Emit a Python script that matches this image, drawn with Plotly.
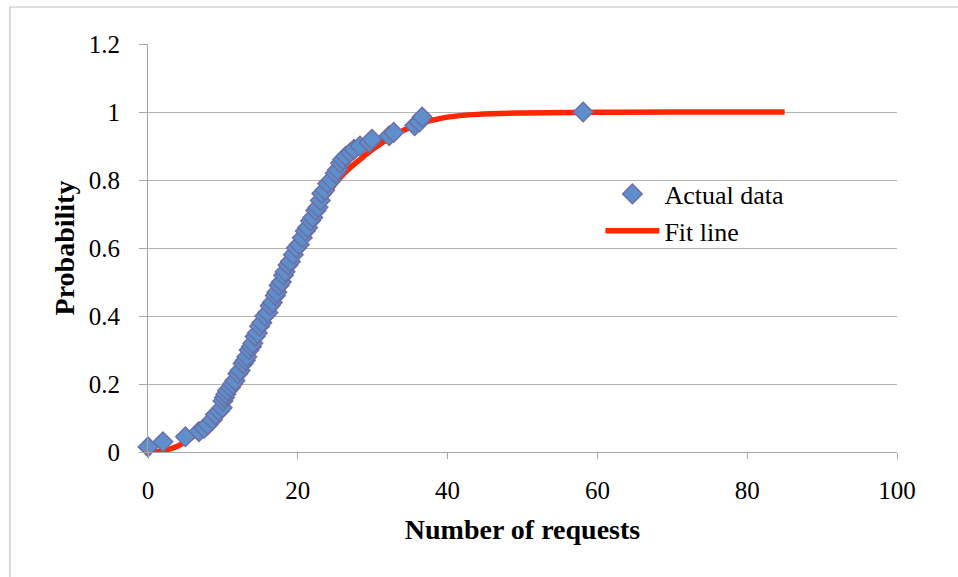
import plotly.graph_objects as go

# Observed request counts and their cumulative probability
actual_x = [0, 2, 5, 6.8, 7.5, 8, 8.6, 9, 9.5, 9.9,
            10, 10.2, 10.4, 10.6, 11, 11.3, 11.6, 12, 12.3, 12.7,
            13, 13.2, 13.5, 13.8, 14, 14.3, 14.6, 14.9, 15.2, 15.6,
            16, 16.3, 16.6, 17, 17.2, 17.5, 17.8, 18.1, 18.3, 18.7,
            19, 19.4, 19.8, 20.2, 20.6, 21, 21.3, 21.7, 22, 22.4,
            22.7, 23, 23.2, 23.6, 24, 24.5, 25, 25.3, 25.7, 26,
            26.4, 27, 27.5, 28.3, 29.5, 29.9, 32.2, 32.8, 35.6, 36.2,
            36.6, 58.1]
actual_y = [0.015, 0.03, 0.045, 0.06, 0.07, 0.08, 0.095, 0.11, 0.12, 0.13,
            0.15, 0.16, 0.17, 0.18, 0.19, 0.2, 0.21, 0.23, 0.24, 0.26,
            0.27, 0.28, 0.3, 0.31, 0.32, 0.34, 0.35, 0.37, 0.38, 0.4,
            0.41, 0.43, 0.44, 0.46, 0.47, 0.49, 0.5, 0.52, 0.53, 0.55,
            0.56, 0.58, 0.6, 0.61, 0.63, 0.65, 0.66, 0.68, 0.69, 0.71,
            0.72, 0.74, 0.76, 0.77, 0.79, 0.8, 0.82, 0.83, 0.85, 0.86,
            0.87, 0.88, 0.89, 0.9, 0.91, 0.92, 0.93, 0.94, 0.96, 0.97,
            0.985, 1.0]

# Fitted cumulative curve
fit_x = [0, 2, 4, 6, 8, 10, 12, 14, 16, 18, 20, 22, 24, 26, 28, 30,
         32, 34, 36, 38, 40, 44, 50, 60, 70, 85]
fit_y = [0, 0.004, 0.018, 0.045, 0.09, 0.15, 0.23, 0.32, 0.42, 0.52,
         0.61, 0.69, 0.76, 0.815, 0.855, 0.89, 0.92, 0.945, 0.963, 0.976,
         0.985, 0.993, 0.997, 0.999, 1.0, 1.0]

x_ticks = [0, 20, 40, 60, 80, 100]
y_ticks = [0, 0.2, 0.4, 0.6, 0.8, 1, 1.2]
y_tick_text = ["0", "0.2", "0.4", "0.6", "0.8", "1", "1.2"]

FONT = "Liberation Serif"
GRID = "#b4b4b4"
AXIS = "#a6a6a6"

fig = go.Figure()
fig.add_trace(go.Scatter(
    x=fit_x, y=fit_y, mode="lines", name="Fit line",
    line=dict(color="#ff2600", width=5.5, shape="spline", smoothing=1.0),
    cliponaxis=False,
))
fig.add_trace(go.Scatter(
    x=actual_x, y=actual_y, mode="markers", name="Actual data",
    marker=dict(symbol="diamond", size=15, color="#5e8fcb",
                line=dict(color="#6b70a8", width=1.5)),
    cliponaxis=False,
))

fig.update_layout(
    width=958, height=577,
    margin=dict(l=148, r=61, t=44, b=125),
    paper_bgcolor="white", plot_bgcolor="white",
    font=dict(family=FONT, size=26, color="black"),
    showlegend=True,
    legend=dict(x=0.604, y=0.69, xanchor="left", yanchor="top",
                bgcolor="rgba(0,0,0,0)", traceorder="reversed",
                font=dict(family=FONT, size=26), itemwidth=54,
                tracegroupgap=0),
    xaxis=dict(range=[0, 100], tickvals=x_ticks, ticks="outside",
               ticklen=6, tickcolor=AXIS, showgrid=False,
               zeroline=False, showline=True, linecolor=AXIS,
               linewidth=1, ticklabelstandoff=10,
               tickfont=dict(family=FONT, size=25),
               title=dict(text="<b>Number of requests</b>",
                          font=dict(family=FONT, size=28), standoff=16)),
    yaxis=dict(range=[0, 1.2], tickvals=y_ticks, ticktext=y_tick_text,
               ticks="outside", ticklen=8, tickcolor=AXIS,
               showgrid=True, gridcolor=GRID, gridwidth=1,
               zeroline=False, showline=True, linecolor=AXIS,
               linewidth=1, ticklabelstandoff=14,
               tickfont=dict(family=FONT, size=25),
               title=dict(text="<b>Probability</b>",
                          font=dict(family=FONT, size=28), standoff=5)),
)

# Chart frame
fig.add_shape(type="rect", xref="paper", yref="paper",
              x0=-0.1843, x1=1.12, y0=-0.35, y1=1.0907,
              line=dict(color="#c0c0c0", width=1.2), layer="below")

fig.write_html("out.html")
